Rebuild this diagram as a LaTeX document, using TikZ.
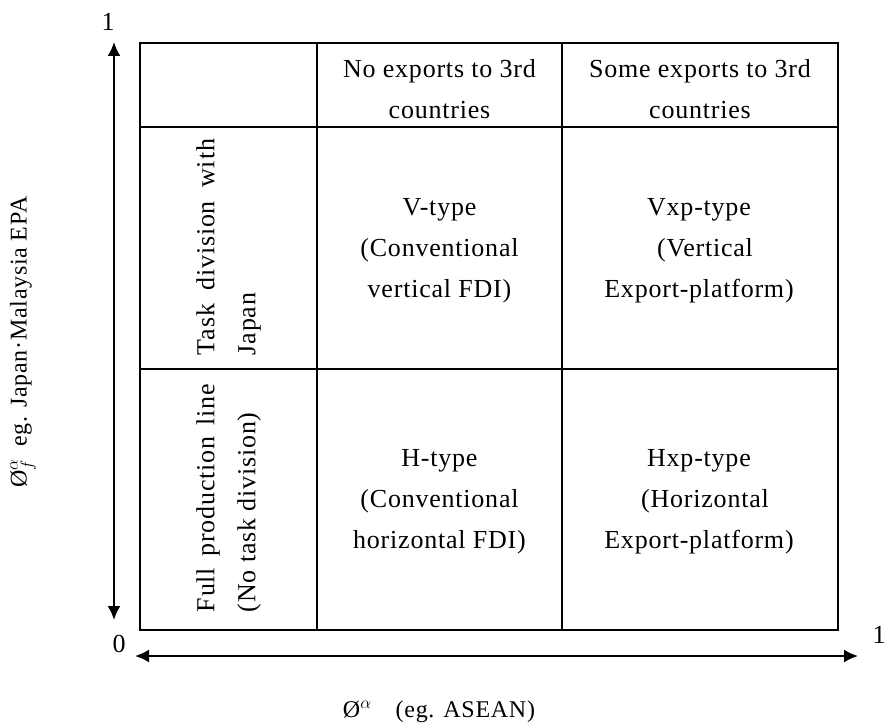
\documentclass[tikz,border=0pt]{standalone}
\usepackage{fontspec}
\setmainfont{Liberation Serif}[LetterSpace=3]
\usepackage{tikz}
\usetikzlibrary{arrows.meta}

\begin{document}
\begin{tikzpicture}[x=1pt, y=-1pt,
  every node/.style = {font=\fontsize{26}{41}\selectfont,
    align=center, inner sep=0pt},
    sidecell/.style = {rotate=90, align=left},
    axislabel/.style = {font=\fontsize{24}{30}\selectfont},
    grid/.style = {line width=1.5pt},
    axis/.style = {line width=2pt, {Latex[length=14pt,width=13pt]}-{Latex[length=14pt,width=13pt]}}
    ]
  \useasboundingbox (0,0) rectangle (886,727);
  % table
  \draw[grid] (140,43) rectangle (838,630);
  \draw[grid] (317,43) -- (317,630) (562,43) -- (562,630)
    (140,127) -- (838,127) (140,369) -- (838,369);
  % header row
  \node (noexp) at (439.5,89.5) {No exports to 3rd\\countries};
  \node (someexp) at (700,89.5) {Some exports to 3rd\\countries};
  % side column
  \node[sidecell] (task) at (228.5,247) {\makebox[216pt][s]{Task division with}\\Japan};
  \node[sidecell] (full) at (228.5,498) {\makebox[228pt][s]{Full production line}\\(No task division)};
  % types
  \node (vtype) at (439.5,251) {V-type\\(Conventional\\vertical FDI)};
  \node (vxptype) at (699,251) {Vxp-type\\\hspace*{12pt}(Vertical\\Export-platform)};
  \node (htype) at (439.5,502) {H-type\\(Conventional\\horizontal FDI)};
  \node (hxptype) at (699,502) {Hxp-type\\\hspace*{12pt}(Horizontal\\Export-platform)};
  % axes
  \coordinate (ytop) at (114,42);
  \coordinate (ybot) at (114,620);
  \coordinate (xleft) at (135,656);
  \coordinate (xright) at (858,656);
  \draw[axis] (ybot) -- (ytop);
  \draw[axis] (xleft) -- (xright);
  \node (yone) at (108,22) {1};
  \node (zero) at (119,644) {0};
  \node (xone) at (879,635) {1};
  \node[axislabel, rotate=90] (ylab) at (23,342) {Ø$^{\alpha}_{f}$\enspace eg. Japan·Malaysia EPA};
  \node[axislabel] (xlab) at (439,712) {Ø$^{\alpha}$\quad(eg. ASEAN)};
\end{tikzpicture}
\end{document}
